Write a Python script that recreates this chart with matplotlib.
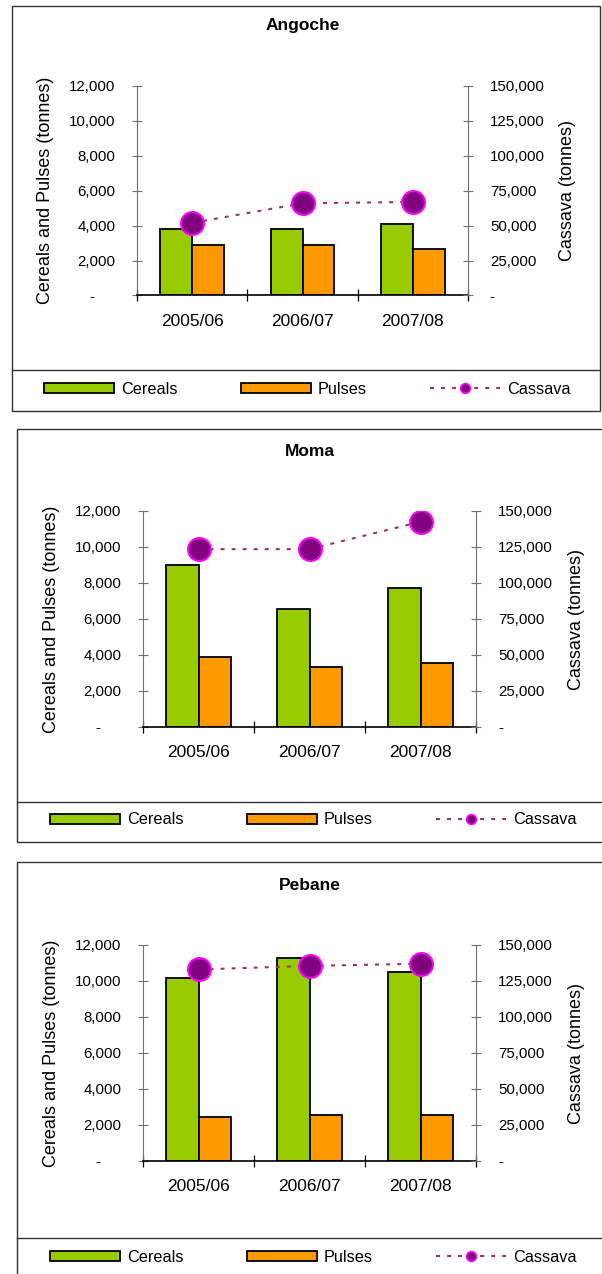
import matplotlib
matplotlib.use("Agg")
import matplotlib.pyplot as plt
from matplotlib.patches import Rectangle
from matplotlib.lines import Line2D
from matplotlib.ticker import FuncFormatter, FixedLocator

plt.rcParams['font.family'] = ['Liberation Sans', 'DejaVu Sans']

# ---- data (tonnes) ----
seasons = ["2005/06", "2006/07", "2007/08"]
districts = ["Angoche", "Moma", "Pebane"]

angoche_cereals = [3800, 3800, 4100]
angoche_pulses = [2880, 2880, 2670]
angoche_cassava = [52000, 66000, 67000]

moma_cereals = [9000, 6550, 7700]
moma_pulses = [3900, 3350, 3550]
moma_cassava = [123500, 123500, 142500]

pebane_cereals = [10150, 11300, 10500]
pebane_pulses = [2450, 2550, 2550]
pebane_cassava = [133000, 135500, 137000]

cereal_series = [angoche_cereals, moma_cereals, pebane_cereals]
pulse_series = [angoche_pulses, moma_pulses, pebane_pulses]
cassava_series = [angoche_cassava, moma_cassava, pebane_cassava]

left_ticks = [0, 2000, 4000, 6000, 8000, 10000, 12000]
right_ticks = [0, 25000, 50000, 75000, 100000, 125000, 150000]

# ---- styling ----
GREEN = "#99CC00"
ORANGE = "#FF9900"
PURPLE = "#800080"
MAGENTA = "#FF00FF"
LINE = "#993366"
AXGREY = "#707070"

W, H = 602, 1274
fig = plt.figure(figsize=(W / 100, H / 100), dpi=100)
fig.patch.set_facecolor("white")


def fx(x):
    return x / W


def fy(y):
    return 1 - y / H


# panel layout in pixels: box (l, t, r, b), legend divider y, axes (l, t, r, b), legend anchor (x, y)
panels = [
    dict(box=(12, 6, 600, 411), div=370, axes=(137, 86, 468, 295.5), leg=(44, 389)),
    dict(box=(17, 429, 640, 842), div=802, axes=(143, 511, 476, 727), leg=(50, 820)),
    dict(box=(17, 862, 640, 1300), div=1238, axes=(143, 945, 476, 1161), leg=(50, 1257)),
]

bar_w = 0.29


def left_fmt(v, pos):
    return "-     " if v == 0 else f"{v:,.0f}"


def right_fmt(v, pos):
    return "-" if v == 0 else f"{v:,.0f}"


for name, cer, pul, cas, pnl in zip(districts, cereal_series, pulse_series,
                                     cassava_series, panels):
    # outer frame and legend divider
    bl, bt, br, bb = pnl["box"]
    fig.add_artist(Rectangle((fx(bl), fy(bb)), fx(br - bl), (bb - bt) / H,
                             transform=fig.transFigure, fill=False,
                             edgecolor="#333333", linewidth=1.0))
    fig.add_artist(Line2D([fx(bl), fx(br)], [fy(pnl["div"])] * 2,
                          transform=fig.transFigure, color="#333333", linewidth=1.0))

    al, at, ar, ab = pnl["axes"]
    ax = fig.add_axes([fx(al), fy(ab), fx(ar - al), (ab - at) / H])
    ax2 = ax.twinx()

    xs = [i + 0.5 for i in range(len(seasons))]
    bc = ax.bar([x - bar_w / 2 for x in xs], cer, width=bar_w, color=GREEN,
                edgecolor="black", linewidth=1.3, label="Cereals", zorder=3)
    bp = ax.bar([x + bar_w / 2 for x in xs], pul, width=bar_w, color=ORANGE,
                edgecolor="black", linewidth=1.3, label="Pulses", zorder=3)
    ax2.plot(xs, cas, color=LINE, linewidth=1.5, linestyle=(0, (1.9, 3.4)),
             marker="o", markersize=16.5, markerfacecolor=PURPLE,
             markeredgecolor=MAGENTA, markeredgewidth=1.5, zorder=4)

    ax.set_xlim(0, len(seasons))
    ax.set_ylim(0, 12000)
    ax2.set_ylim(0, 150000)

    ax.set_xticks(xs)
    ax.set_xticklabels(seasons)
    ax.xaxis.set_minor_locator(FixedLocator(range(len(seasons) + 1)))
    ax.tick_params(axis="x", which="major", length=0, pad=13, labelsize=12.5)
    ax.tick_params(axis="x", which="minor", direction="inout", length=8,
                   width=0.9, color="black")

    ax.set_yticks(left_ticks)
    ax.yaxis.set_major_formatter(FuncFormatter(left_fmt))
    ax.tick_params(axis="y", direction="inout", length=7.5, width=0.8,
                   color=AXGREY, pad=12, labelsize=10.8)
    ax2.set_yticks(right_ticks)
    ax2.yaxis.set_major_formatter(FuncFormatter(right_fmt))
    ax2.tick_params(axis="y", direction="inout", length=7.5, width=0.8,
                    color=AXGREY, pad=12, labelsize=10.8)

    for s in ("top", "right"):
        ax.spines[s].set_visible(False)
    for s in ("top", "left", "bottom"):
        ax2.spines[s].set_visible(False)
    ax.spines["left"].set_color(AXGREY)
    ax.spines["left"].set_linewidth(0.8)
    ax2.spines["right"].set_color(AXGREY)
    ax2.spines["right"].set_linewidth(0.8)
    ax.spines["bottom"].set_color("black")
    ax.spines["bottom"].set_linewidth(1.2)
    ax.spines["bottom"].set_zorder(5)

    ax.set_ylabel("Cereals and Pulses (tonnes)", fontsize=13)
    ax.yaxis.label.set_va("center")
    ax.yaxis.set_label_coords(-0.275, 0.5)
    ax2.set_ylabel("Cassava (tonnes)", fontsize=13, rotation=90)
    ax2.yaxis.label.set_va("center")
    ax2.yaxis.set_label_coords(1.302, 0.5)

    ax.set_title(name, fontsize=12.5, fontweight="bold", pad=0,
                 y=1 + 60 / (ab - at), va="center")

    cassava_key = Line2D([], [], color=LINE, linewidth=1.5,
                         linestyle=(0, (1.9, 3.4)), marker="o", markersize=7,
                         markerfacecolor=PURPLE, markeredgecolor=MAGENTA,
                         markeredgewidth=1.2)
    lx, ly = pnl["leg"]
    fig.legend(handles=[bc, bp, cassava_key], labels=["Cereals", "Pulses", "Cassava"],
               loc="center left", bbox_to_anchor=(fx(lx), fy(ly)), ncol=3,
               frameon=False, fontsize=11.7, handlelength=4.3, handleheight=0.62,
               handletextpad=0.43, columnspacing=3.9, borderpad=0,
               borderaxespad=0)

fig.savefig("out.png", dpi=100, facecolor="white")
